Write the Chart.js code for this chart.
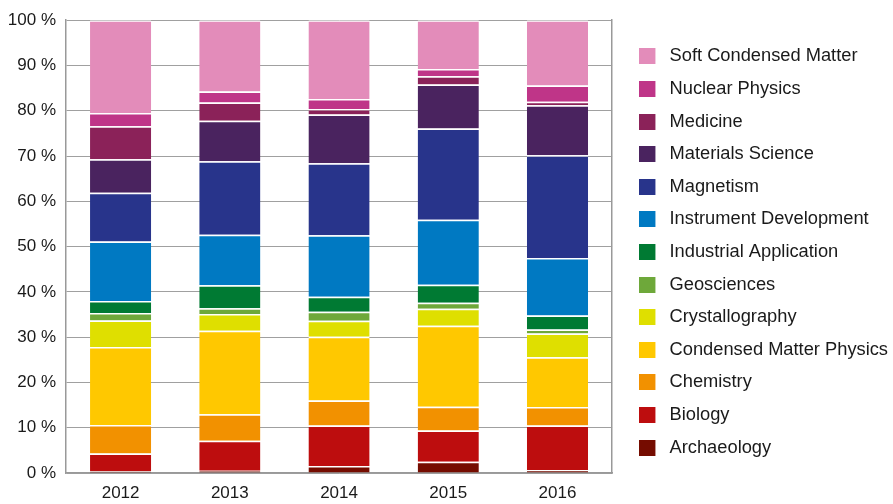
<!DOCTYPE html>
<html>
<head>
<meta charset="utf-8">
<script src="https://cdn.jsdelivr.net/npm/chart.js@4/dist/chart.umd.min.js"></script>
<style>
  html, body { margin: 0; padding: 0; background: #fff; }
  #wrap { width: 893px; height: 504px; }
</style>
</head>
<body>
<div id="wrap"><canvas id="c" width="893" height="504"></canvas></div>
<script>
const years = ['2012', '2013', '2014', '2015', '2016'];

// Series values (% of total), bottom to top of each stack
const archaeology           = [0.4, 0.5, 1.55, 2.5, 0.65];
const biology               = [3.9, 6.6, 8.95, 6.9, 9.85];
const chemistry             = [6.3, 5.85, 5.5, 5.25, 4.1];
const condensedMatter       = [17.2, 18.45, 14.1, 17.85, 10.95];
const crystallography       = [5.9, 3.7, 3.55, 3.8, 5.25];
const geosciences           = [1.65, 1.3, 1.95, 1.3, 0.9];
const industrialApplication = [2.65, 5.05, 3.3, 4.0, 3.1];
const instrumentDevelopment = [13.1, 11.15, 13.6, 14.35, 12.7];
const magnetism             = [10.8, 16.25, 15.9, 20.15, 22.7];
const materialsScience      = [7.4, 8.95, 10.8, 9.7, 11.0];
const medicine              = [7.3, 4.0, 1.2, 1.8, 0.8];
const nuclearPhysics        = [2.9, 2.45, 2.2, 1.6, 3.6];
const softCondensedMatter   = [20.5, 15.75, 17.4, 10.8, 14.4];

const yTicks = [0, 10, 20, 30, 40, 50, 60, 70, 80, 90, 100];

const series = [
  ['Archaeology', archaeology, '#750c00'],
  ['Biology', biology, '#bd0d0e'],
  ['Chemistry', chemistry, '#f29100'],
  ['Condensed Matter Physics', condensedMatter, '#ffc800'],
  ['Crystallography', crystallography, '#dfdf00'],
  ['Geosciences', geosciences, '#6ea83a'],
  ['Industrial Application', industrialApplication, '#007a33'],
  ['Instrument Development', instrumentDevelopment, '#0079c2'],
  ['Magnetism', magnetism, '#28348b'],
  ['Materials Science', materialsScience, '#4a235f'],
  ['Medicine', medicine, '#8b2259'],
  ['Nuclear Physics', nuclearPhysics, '#bf3588'],
  ['Soft Condensed Matter', softCondensedMatter, '#e38cba']
];

function swatch(color) {
  const cv = document.createElement('canvas');
  cv.width = 21; cv.height = 16;
  const g = cv.getContext('2d');
  g.fillStyle = color;
  g.fillRect(0, 0, 16, 16);
  return cv;
}

const FONT = 'Liberation Sans, Arial, Helvetica, sans-serif';
const TXT = '#1a1a1a';

const datasets = series.map(([label, data, color]) => ({
  label, data,
  backgroundColor: color,
  borderColor: '#ffffff',
  borderWidth: {top: 1.5, left: 0, right: 0, bottom: 0},
  borderSkipped: false,
  stack: 's',
  xAxisID: 'x',
  yAxisID: 'y',
  _swatch: swatch(color)
}));

new Chart(document.getElementById('c'), {
  type: 'bar',
  data: { labels: years, datasets },
  options: {
    responsive: false,
    animation: false,
    devicePixelRatio: 1,
    categoryPercentage: 1.0,
    barPercentage: 0.56,
    layout: { padding: { top: 0, left: 8, right: -5, bottom: 0 } },
    plugins: {
      tooltip: { enabled: false },
      legend: {
        position: 'right',
        reverse: true,
        maxWidth: 400,
        labels: {
          usePointStyle: true,
          pointStyleWidth: 21,
          boxHeight: 16,
          padding: 14.3,
          color: TXT,
          font: { family: FONT, size: 18.3 },
          generateLabels(chart) {
            const items = Chart.defaults.plugins.legend.labels.generateLabels(chart);
            items.forEach(it => {
              it.pointStyle = chart.data.datasets[it.datasetIndex]._swatch;
              it.lineWidth = 0;
            });
            return items;
          }
        }
      }
    },
    scales: {
      x: {
        stacked: true,
        grid: { display: false, drawTicks: false },
        border: { display: true, color: '#999999', width: 1.5 },
        ticks: { color: TXT, font: { family: FONT, size: 17 }, padding: 10 },
        afterFit(s) { s.height = 31; }
      },
      xTop: {
        type: 'category',
        labels: years,
        position: 'top',
        display: true,
        grid: { display: false, drawTicks: false },
        border: { display: false },
        ticks: { display: false },
        afterFit(s) { s.height = 20; }
      },
      y: {
        stacked: true,
        min: 0,
        max: 100,
        grid: { color: '#a0a0a0', lineWidth: 1, drawTicks: false },
        border: { display: true, color: '#999999', width: 1.5 },
        afterBuildTicks(s) { s.ticks = yTicks.map(v => ({ value: v })); },
        ticks: {
          color: TXT,
          font: { family: FONT, size: 17 },
          padding: 10,
          callback: v => v + ' %'
        },
        afterFit(s) { s.width = 58; }
      },
      yRight: {
        type: 'linear',
        position: 'right',
        display: true,
        grid: { display: false, drawTicks: false },
        border: { display: true, color: '#999999', width: 1.5 },
        ticks: { display: false },
        afterFit(s) { s.width = 13; }
      }
    }
  }
});
</script>
</body>
</html>
